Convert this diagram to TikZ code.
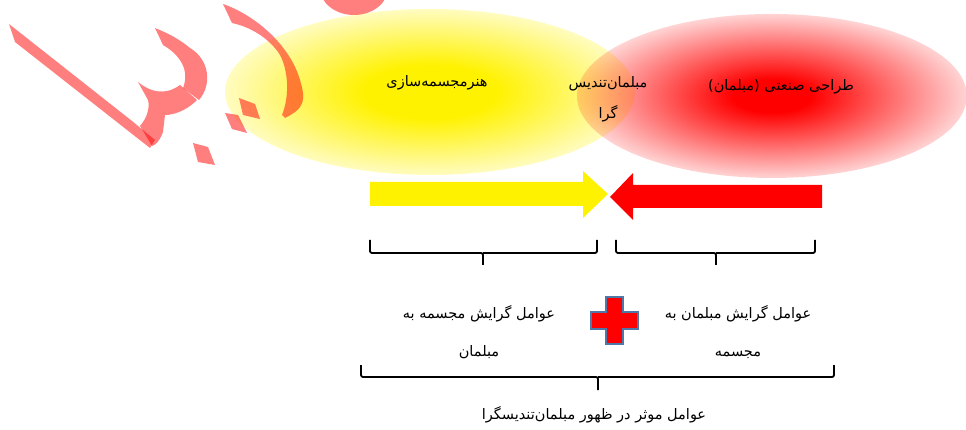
\documentclass[tikz,border=0pt]{standalone}
\usepackage{fontspec}
\newfontfamily\farsi[Script=Arabic]{DejaVu Sans}
\TeXXeTstate=1
\usetikzlibrary{fadings, calc}

%% soft glows for the two fields
\pgfdeclareradialshading{yglowshade}{\pgfpointorigin}{color(0bp)=(transparent!0); color(8bp)=(transparent!0); color(30.5bp)=(transparent!100); color(50bp)=(transparent!100)}
\pgfdeclareradialshading{rglowshade}{\pgfpointorigin}{color(0bp)=(transparent!0); color(5bp)=(transparent!0); color(29bp)=(transparent!100); color(50bp)=(transparent!100)}
\tikzfading[name=yglow, shading=yglowshade]
\tikzfading[name=rglow, shading=rglowshade]

\definecolor{crossedge}{RGB}{79,119,168}

\begin{document}
\begin{tikzpicture}[x=1pt, y=-1pt,
  lbl/.style={font=\farsi\fontsize{14.5}{17}\selectfont, align=center, inner sep=0pt},
  wm/.style={fill=red, fill opacity=0.5},
  brc/.style={draw=black, line width=1.8pt, rounded corners=2pt},
  plus/.style={fill=red, draw=crossedge, line width=2.6pt, line join=miter},
]
\useasboundingbox (0,0) rectangle (966,430);
\clip (0,0) rectangle (966,430);

%% ---- Fields (glowing ellipses) ----
\coordinate (yc) at (430,92);
\coordinate (rc) at (772,96);
\fill[yellow, path fading=yglow, fit fading=true] (yc) ellipse [x radius=205, y radius=83];
\fill[red, path fading=rglow, fit fading=true] (rc) ellipse [x radius=195, y radius=82];

%% ---- Watermark ----
\fill[wm] (9,24) -- (132,121) -- (155,140) -- (150,148) -- (15,42) -- cycle;
\fill[wm] (138,82) .. controls (150,92) and (165,96) .. (180,85) -- (197,100)
  .. controls (185,112) and (172,115) .. (165,115) -- (163,132)
  .. controls (160,140) and (156,145) .. (152,146) -- (140,126)
  .. controls (147,118) and (150,108) .. (148,100) -- cycle;
\fill[wm] (155,28) -- (163,45) .. controls (180,55) and (190,70) .. (183,88) -- (199,100)
  .. controls (212,85) and (210,60) .. (190,48) .. controls (178,38) and (165,32) .. (155,28) -- cycle;
\fill[wm] (223,4) .. controls (255,15) and (290,45) .. (300,80)
  .. controls (306,100) and (305,108) .. (285,118) -- (282,115)
  .. controls (290,95) and (288,70) .. (280,55) .. controls (272,42) and (255,28) .. (232,23) -- cycle;
\fill[wm] (239,98) -- (255,104) -- (260,119) -- (243,115) -- cycle;
\fill[wm] (225,113) -- (238,115) -- (247,133) -- (232,129) -- cycle;
\fill[wm] (193,143) -- (208,147) -- (215,165) -- (198,162) -- cycle;
\fill[wm] (354,-12) ellipse [x radius=34, y radius=27];

%% ---- Arrows meeting in the middle ----
\fill[yellow] (370,182) -- (583,182) -- (583,171) -- (608,194) -- (583,218) -- (583,206) -- (370,206) -- cycle;
\fill[red] (822,185) -- (633,185) -- (633,173) -- (610,197) -- (633,220) -- (633,208) -- (822,208) -- cycle;

%% ---- Small braces ----
\coordinate (b1l) at (370,240);
\coordinate (b1r) at (597,240);
\coordinate (b1t) at (483,265);
\draw[brc] (b1l) |- (b1t |- 0,253) -- (b1t);
\draw[brc] (b1r) |- (b1t |- 0,253);
\coordinate (b2l) at (616,240);
\coordinate (b2r) at (815,240);
\coordinate (b2t) at (716,265);
\draw[brc] (b2l) |- (b2t |- 0,253) -- (b2t);
\draw[brc] (b2r) |- (b2t |- 0,253);

%% ---- Plus sign ----
\fill[plus] (606,297) -- (623,297) -- (623,312) -- (638,312) -- (638,329) -- (623,329)
  -- (623,344) -- (606,344) -- (606,329) -- (591,329) -- (591,312) -- (606,312) -- cycle;

%% ---- Big brace ----
\coordinate (bbl) at (361,365);
\coordinate (bbr) at (834,365);
\coordinate (bbt) at (598,390);
\draw[brc] (bbl) |- (bbt |- 0,377) -- (bbt);
\draw[brc] (bbr) |- (bbt |- 0,377);

%% ---- Labels ----
\node[lbl] (sculpt) at (437,83) {\beginR هنرمجسمه^^^^200cسازی\endR};
\node[lbl] (hybrid) at (608,99) {\beginR مبلمان^^^^200cتندیس\endR\\[14pt]\beginR گرا\endR};
\node[lbl] (design) at (781,87) {\beginR طراحی صنعتی (مبلمان)\endR};
\node[lbl] (leftf)  at (479,332) {\beginR عوامل گرایش مجسمه به\endR\\[21pt]\beginR مبلمان\endR};
\node[lbl] (rightf) at (738,332) {\beginR عوامل گرایش مبلمان به\endR\\[21pt]\beginR مجسمه\endR};
\node[lbl] (total)  at (594,415) {\beginR عوامل موثر در ظهور مبلمان^^^^200cتندیسگرا\endR};
\end{tikzpicture}
\end{document}
